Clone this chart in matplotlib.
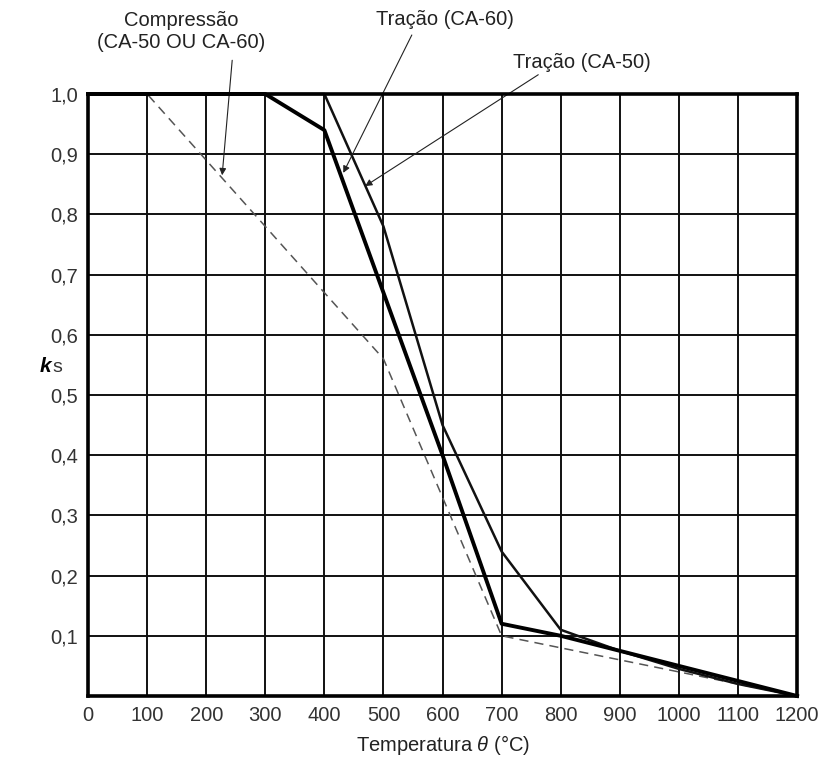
import matplotlib

matplotlib.use("Agg")
import matplotlib.pyplot as plt

plt.rcParams["font.family"] = ["Liberation Sans", "DejaVu Sans"]
plt.rcParams["mathtext.fontset"] = "custom"
plt.rcParams["mathtext.rm"] = "Liberation Sans"
plt.rcParams["mathtext.it"] = "Liberation Sans:italic"

# temperaturas (°C) e fatores de redução ks
temperatures = [0, 100, 200, 300, 400, 500, 600, 700, 800, 900, 1000, 1100, 1200]
ks_ca50_tension = [1.0, 1.0, 1.0, 1.0, 1.0, 0.78, 0.45, 0.24, 0.11, 0.075, 0.045, 0.02, 0.0]
ks_ca60_tension = [1.0, 1.0, 1.0, 1.0, 0.94, 0.67, 0.40, 0.12, 0.10, 0.075, 0.05, 0.025, 0.0]
ks_compression = [1.0, 1.0, 0.89, 0.78, 0.67, 0.56, 0.33, 0.10, 0.08, 0.06, 0.04, 0.02, 0.0]

x_ticks = list(range(0, 1201, 100))
y_ticks = [0.1, 0.2, 0.3, 0.4, 0.5, 0.6, 0.7, 0.8, 0.9, 1.0]
y_tick_labels = ["0,1", "0,2", "0,3", "0,4", "0,5", "0,6", "0,7", "0,8", "0,9", "1,0"]

fig = plt.figure(figsize=(8.32, 7.58), dpi=100)
ax = fig.add_axes([0.1058, 0.0818, 0.8522, 0.7942])

ax.set_xlim(0, 1200)
ax.set_ylim(0, 1.0)
ax.set_xticks(x_ticks)
ax.set_xticklabels([str(t) for t in x_ticks])
ax.set_yticks(y_ticks)
ax.set_yticklabels(y_tick_labels)
ax.tick_params(length=0, labelsize=14.5, colors="#333333", pad=7)
ax.grid(True, color="#111111", linewidth=1.4)
ax.set_axisbelow(True)
for spine in ax.spines.values():
    spine.set_linewidth(2.6)
    spine.set_zorder(5)

ax.plot(temperatures, ks_compression, color="#555555", linewidth=1.1, linestyle=(0, (6, 4)), clip_on=False, zorder=3)
ax.plot(temperatures, ks_ca50_tension, color="#111111", linewidth=1.8, clip_on=False, zorder=3)
ax.plot(temperatures, ks_ca60_tension, color="#000000", linewidth=2.8, clip_on=False, zorder=4)

arrow = dict(arrowstyle="-|>", color="#222222", lw=0.8, mutation_scale=10, shrinkA=0, shrinkB=0)
ax.annotate("", xy=(227, 0.865), xytext=(244, 1.056), arrowprops=arrow, annotation_clip=False)
ax.annotate("", xy=(432, 0.869), xytext=(548, 1.098), arrowprops=arrow, annotation_clip=False)
ax.annotate("", xy=(469, 0.847), xytext=(762, 1.032), arrowprops=arrow, annotation_clip=False)

label_style = dict(ha="center", va="center", fontsize=14.5, color="#222222", clip_on=False)
ax.text(158, 1.104, "Compressão\n(CA-50 OU CA-60)", linespacing=1.15, **label_style)
ax.text(604, 1.123, "Tração (CA-60)", **label_style)
ax.text(836, 1.053, "Tração (CA-50)", **label_style)

ax.set_xlabel(r"Temperatura $\theta$ (°C)", fontsize=14.5, color="#222222", labelpad=6)
fig.text(0.048, 0.517, "k", fontsize=15, fontweight="bold", fontstyle="italic", ha="left", va="center")
fig.text(0.063, 0.515, "s", fontsize=14, color="#333333", ha="left", va="center")

fig.savefig("out.png", dpi=100)
